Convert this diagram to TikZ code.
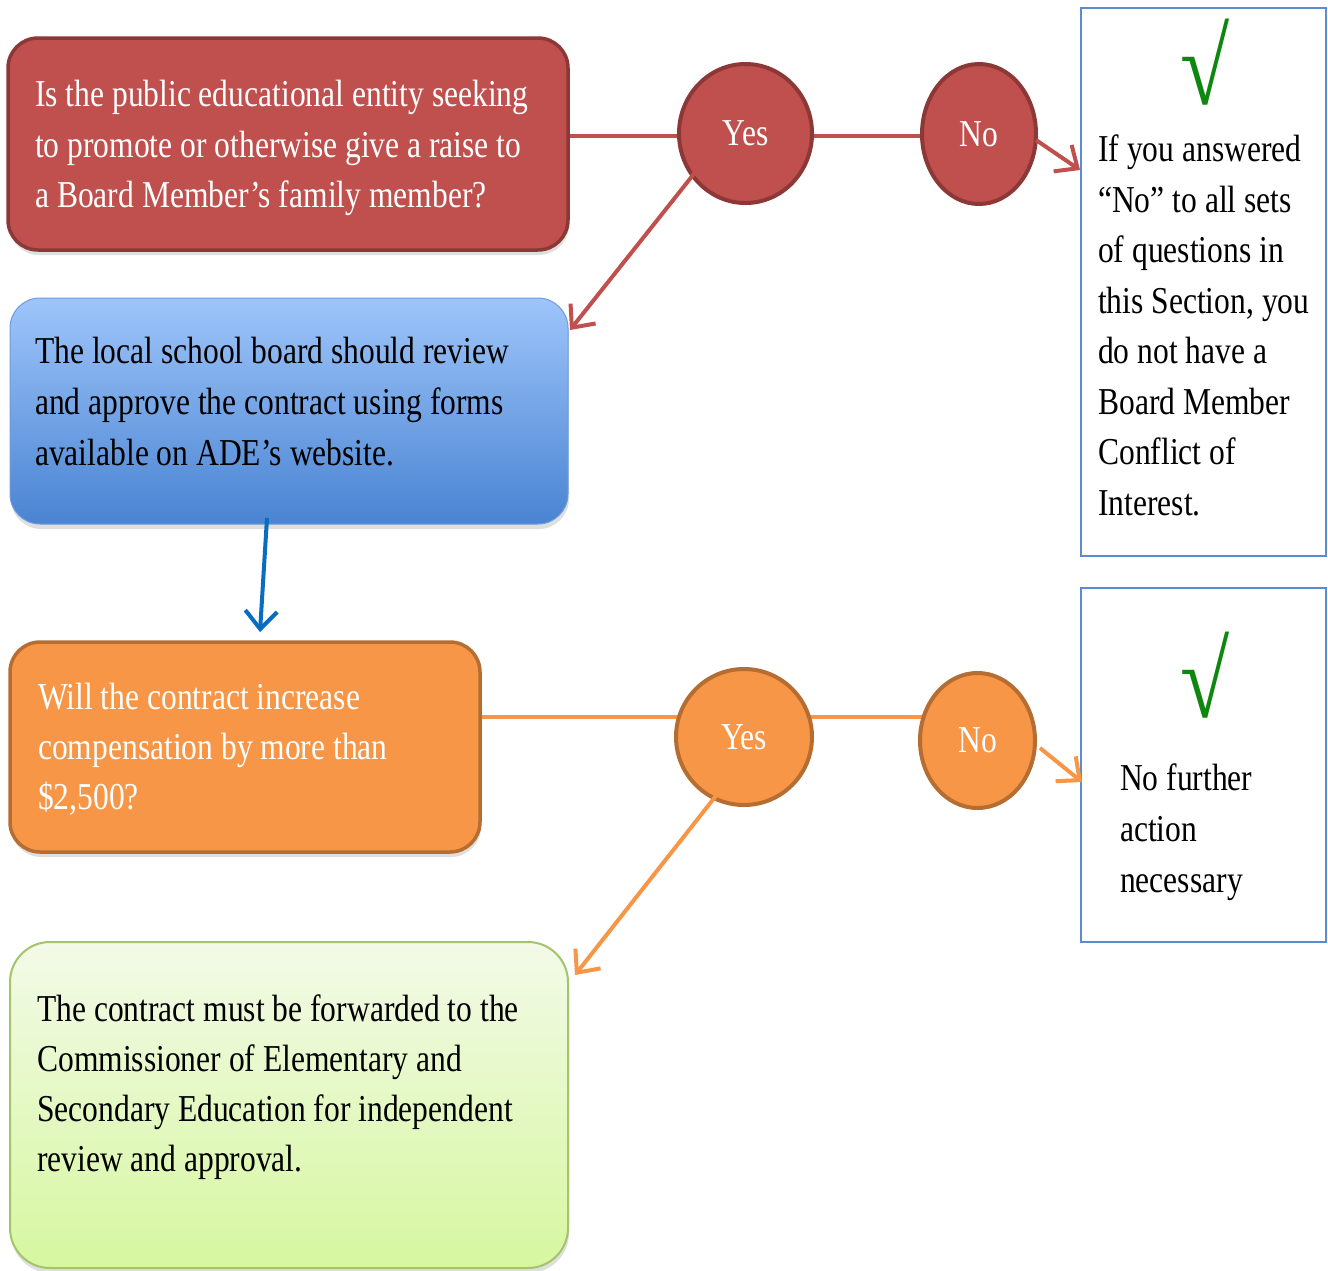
\documentclass[tikz,border=0pt]{standalone}
\usepackage{fontspec}
\setmainfont[FakeStretch=0.83]{Liberation Serif}
\usetikzlibrary{shapes.geometric,arrows.meta,shadows,backgrounds}

\definecolor{redfill}{HTML}{C0504D}
\definecolor{redline}{HTML}{8C3836}
\definecolor{orangefill}{HTML}{F79646}
\definecolor{orangeline}{HTML}{B66D31}
\definecolor{bluetop}{HTML}{9EC5FA}
\definecolor{bluebottom}{HTML}{4A84D2}
\definecolor{blueedge}{HTML}{6E9BE0}
\definecolor{greentop}{HTML}{F3FAE8}
\definecolor{greenbottom}{HTML}{D6F7A0}
\definecolor{greenline}{HTML}{A3C46A}
\definecolor{frameblue}{HTML}{5B8BD0}
\definecolor{checkgreen}{HTML}{0E870E}
\definecolor{arrowblue}{HTML}{0A6CC0}

\tikzset{
  box/.style={rectangle, rounded corners=30pt, inner sep=0pt},
  shade/.style={drop shadow={shadow xshift=1pt, shadow yshift=-5pt, opacity=0.25}},
  txt/.style={anchor=north west, inner sep=0pt, align=left,
              font=\fontsize{38}{50.5}\selectfont},
  answer/.style={ellipse, inner sep=0pt, line width=4pt,
                 font=\fontsize{38}{46}\selectfont, text=white},
  frame/.style={rectangle, draw=frameblue, line width=1.6pt, fill=white, inner sep=0pt},
  tick/.style={inner sep=0pt, text=checkgreen, font=\fontsize{108}{108}\selectfont},
  barb/.style={-{Straight Barb[length=18pt, width=32pt, line width=4pt]}, line width=4pt},
  link/.style={line width=4pt},
}

\begin{document}
\begin{tikzpicture}[x=1pt, y=-1pt]
\clip (0,0) rectangle (1328,1270);

% ---- question 1 -------------------------------------------------------
\node[box, shade, fill=redfill, draw=redline, line width=3.5pt,
      minimum width=560pt, minimum height=212pt] (q1) at (288,144) {};
\node[txt, text=white] (q1t) at (35,71)
  {\strut Is the public educational entity seeking\\
   to promote or otherwise give a raise to\\
   a Board Member’s family member?};

\node[answer, fill=redfill, draw=redline,
      minimum width=133pt, minimum height=139pt] (ry) at (745.5,133.5) {Yes};
\node[answer, fill=redfill, draw=redline,
      minimum width=114pt, minimum height=140pt] (rn) at (979,134) {No};

% ---- review step --------------------------------------------------------
\node[box, shade, top color=bluetop, bottom color=bluebottom, draw=blueedge,
      line width=1pt, minimum width=558pt, minimum height=226pt] (b1) at (289,411) {};
\node[txt, text=black, font=\fontsize{38}{51}\selectfont] (b1t) at (35,328)
  {\strut The local school board should review\\
   and approve the contract using forms\\
   available on ADE’s website.};

% ---- question 2 -------------------------------------------------------
\node[box, shade, fill=orangefill, draw=orangeline, line width=3.5pt,
      minimum width=470pt, minimum height=210pt] (q2) at (245,747) {};
\node[txt, text=white, font=\fontsize{38}{50}\selectfont] (q2t) at (38,674)
  {\strut Will the contract increase\\
   compensation by more than\\
   \$2,500?};

\node[answer, fill=orangefill, draw=orangeline,
      minimum width=136pt, minimum height=136pt] (oy) at (744,737) {Yes};
\node[answer, fill=orangefill, draw=orangeline,
      minimum width=115pt, minimum height=135pt] (on) at (977.5,740.5) {No};

% ---- forwarding step ----------------------------------------------------
\node[box, rounded corners=40pt, shade, top color=greentop, bottom color=greenbottom,
      draw=greenline, line width=2pt,
      minimum width=558pt, minimum height=326pt] (g1) at (289,1105) {};
\node[txt, text=black, font=\fontsize{38}{50}\selectfont] (g1t) at (37,986)
  {\strut The contract must be forwarded to the\\
   Commissioner of Elementary and\\
   Secondary Education for independent\\
   review and approval.};

% ---- outcome frames -----------------------------------------------------
\node[frame, minimum width=245pt, minimum height=548pt] (n1) at (1203.5,282) {};
\node[tick] (n1c) at (1205,62) {√};
\node[txt, text=black] (n1t) at (1098,126)
  {\strut If you answered\\
   “No” to all sets\\
   of questions in\\
   this Section, you\\
   do not have a\\
   Board Member\\
   Conflict of\\
   Interest.};

\node[frame, minimum width=245pt, minimum height=354pt] (n2) at (1203.5,765) {};
\node[tick] (n2c) at (1205,675) {√};
\node[txt, text=black, font=\fontsize{38}{51}\selectfont] (n2t) at (1120,755)
  {\strut No further\\
   action\\
   necessary};

% ---- connectors ---------------------------------------------------------
\coordinate (rline) at (0,136);
\coordinate (oline) at (0,717);
\begin{pgfonlayer}{background}
  \fill[white] (0,0) rectangle (1328,1270);
  \draw[link, redfill] (q1.east |- rline) -- (ry.center |- rline) -- (rn.center |- rline);
  \draw[link, orangefill] (q2.east |- oline) -- (oy.center |- oline) -- (on.center |- oline);
\end{pgfonlayer}

\coordinate (ryout) at (697,170);
\coordinate (b1in)  at (570,330);
\coordinate (rnout) at (1036,140);
\coordinate (n1in)  at (1080,170);
\coordinate (b1out) at (267,518);
\coordinate (q2in)  at (260,632);
\coordinate (oyout) at (726,783);
\coordinate (g1in)  at (575,975);
\coordinate (onout) at (1040,748);
\coordinate (n2in)  at (1082,782);

\draw[barb, redfill] (ryout) -- (b1in);
\draw[barb, redfill] (rnout) -- (n1in);
\draw[barb, arrowblue] (b1out) -- (q2in);
\draw[barb, orangefill] (oyout) -- (g1in);
\draw[barb, orangefill] (onout) -- (n2in);
\end{tikzpicture}
\end{document}
